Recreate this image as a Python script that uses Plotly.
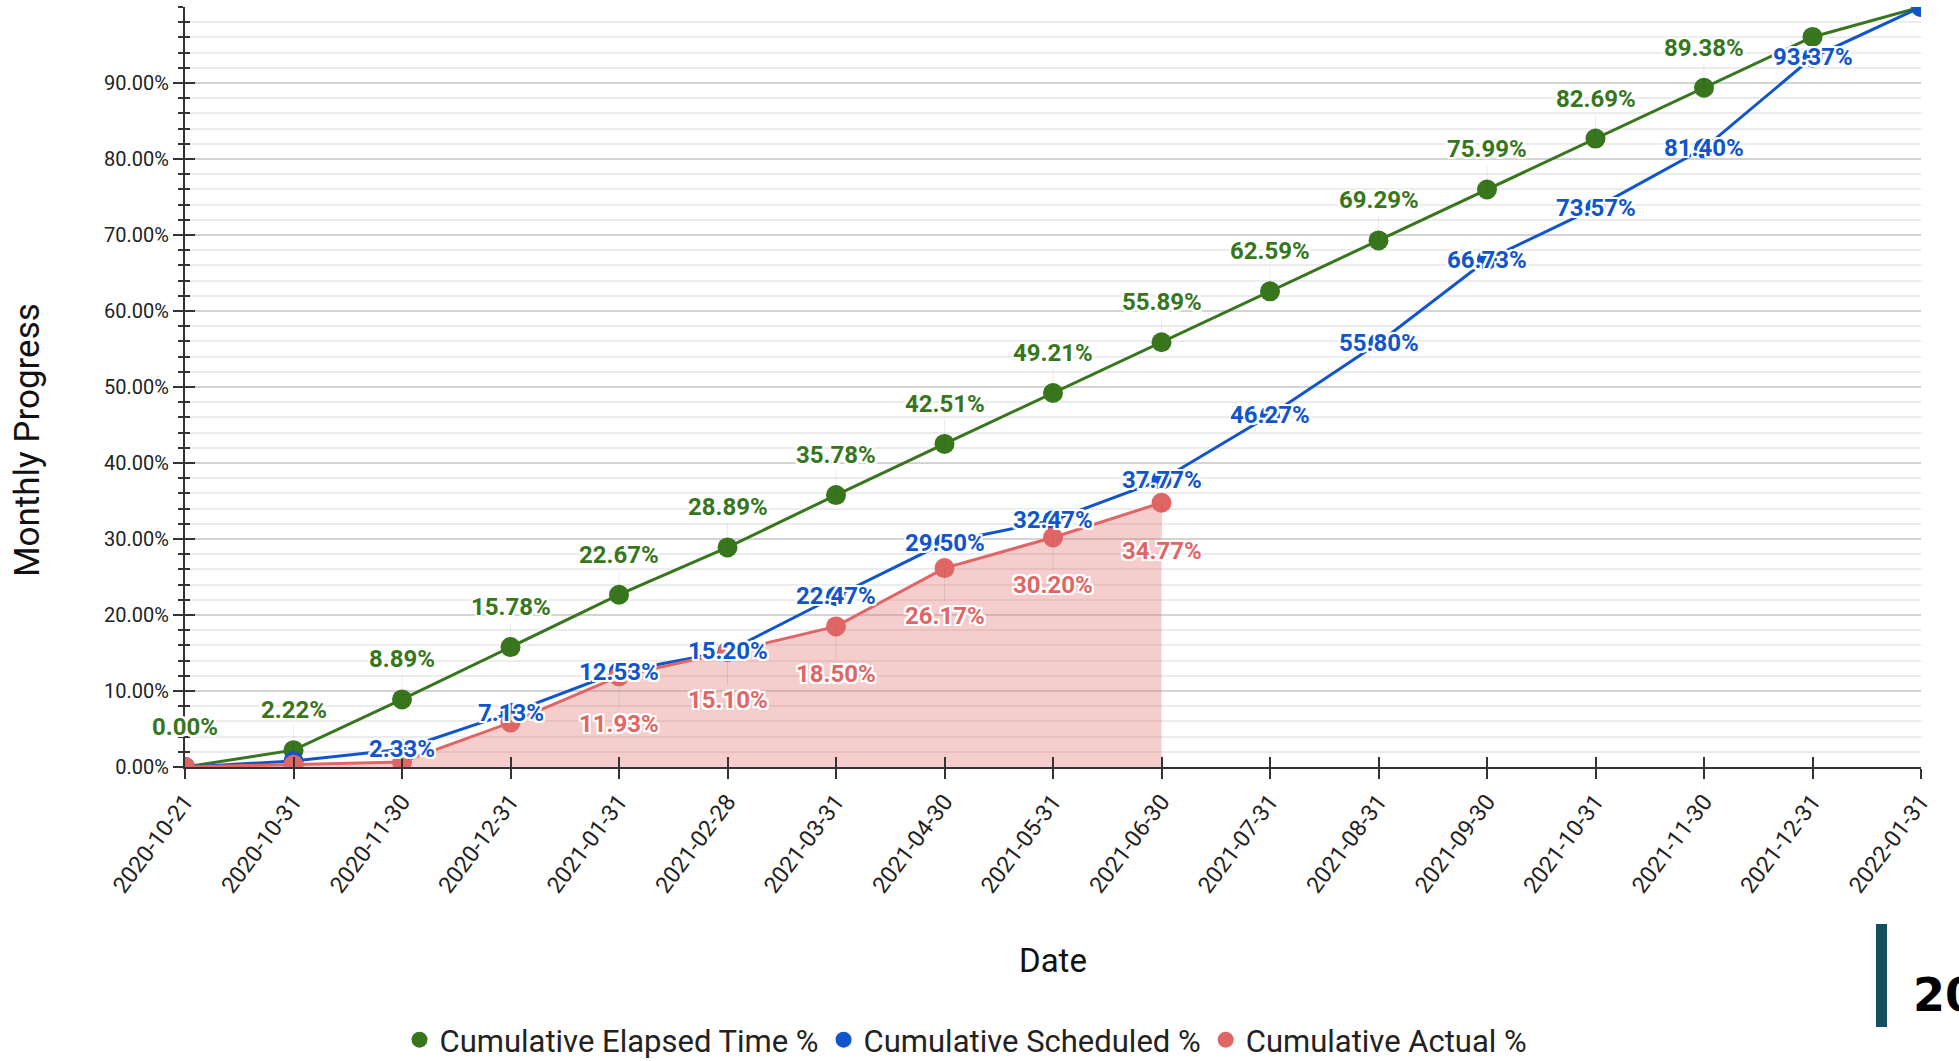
import plotly.graph_objects as go

# ---- data ----
dates = ["2020-10-21", "2020-10-31", "2020-11-30", "2020-12-31", "2021-01-31",
         "2021-02-28", "2021-03-31", "2021-04-30", "2021-05-31", "2021-06-30",
         "2021-07-31", "2021-08-31", "2021-09-30", "2021-10-31", "2021-11-30",
         "2021-12-31", "2022-01-31"]
elapsed = [0.00, 2.22, 8.89, 15.78, 22.67, 28.89, 35.78, 42.51, 49.21, 55.89,
           62.59, 69.29, 75.99, 82.69, 89.38, 96.06, 100.00]
scheduled = [0.00, 0.78, 2.33, 7.13, 12.53, 15.20, 22.47, 29.50, 32.47, 37.77,
             46.27, 55.80, 66.73, 73.57, 81.40, 93.37, 100.00]
actual_dates = dates[:10]
actual = [0.00, 0.30, 0.66, 5.85, 11.93, 15.10, 18.50, 26.17, 30.20, 34.77]

# which points carry a visible value label
elapsed_labeled = list(range(0, 15))
scheduled_labeled = list(range(2, 16))
actual_labeled = list(range(4, 10))

yticks = [0, 10, 20, 30, 40, 50, 60, 70, 80, 90]

GREEN = "#38761d"
BLUE = "#1155cc"
RED = "#e06666"

W, H = 1959, 1061
L, R, T, B = 185, 1921, 7, 767


def px_x(p):
    return (p - L) / (R - L)


def px_y(p):
    return (B - p) / (B - T)


fig = go.Figure()

fig.add_trace(go.Scatter(x=dates, y=elapsed, mode="lines+markers",
                         name="Cumulative Elapsed Time %", showlegend=False,
                         line=dict(color=GREEN, width=3),
                         marker=dict(color=GREEN, size=20)))
fig.add_trace(go.Scatter(x=dates, y=scheduled, mode="lines+markers",
                         name="Cumulative Scheduled %", showlegend=False,
                         line=dict(color=BLUE, width=3),
                         marker=dict(color=BLUE, size=20)))
fig.add_trace(go.Scatter(x=actual_dates, y=actual, mode="lines+markers",
                         name="Cumulative Actual %", showlegend=False,
                         fill="tozeroy", fillcolor="rgba(224,102,102,0.33)",
                         line=dict(color=RED, width=3),
                         marker=dict(color=RED, size=20)))

# legend-only entries (marker only)
for nm, col in [("Cumulative Elapsed Time %", GREEN),
                ("Cumulative Scheduled %", BLUE),
                ("Cumulative Actual %", RED)]:
    fig.add_trace(go.Scatter(x=[None], y=[None], mode="markers", name=nm,
                             marker=dict(color=col, size=16)))

# invisible trace to carry overlay axes (inside tick halves)
fig.add_trace(go.Scatter(x=[None], y=[None], xaxis="x2", yaxis="y2",
                         showlegend=False, hoverinfo="skip", mode="markers"))

shadow = ("2px 0 0 #fff, -2px 0 0 #fff, 0 2px 0 #fff, 0 -2px 0 #fff, "
          "2px 2px 0 #fff, -2px -2px 0 #fff, 2px -2px 0 #fff, -2px 2px 0 #fff")

annotations = []
for i in elapsed_labeled:
    annotations.append(dict(x=dates[i], y=elapsed[i], text=f"{elapsed[i]:.2f}%",
                            showarrow=True, arrowhead=0, arrowwidth=1,
                            arrowcolor="rgba(0,0,0,0.07)", ax=0, ay=-40,
                            font=dict(family="Roboto", size=24, color=GREEN,
                                      weight="bold", shadow=shadow)))
for i in actual_labeled:
    annotations.append(dict(x=actual_dates[i], y=actual[i], text=f"{actual[i]:.2f}%",
                            showarrow=True, arrowhead=0, arrowwidth=1,
                            arrowcolor="rgba(0,0,0,0.07)", ax=0, ay=48,
                            font=dict(family="Roboto", size=24, color=RED,
                                      weight="bold", shadow=shadow)))
for i in scheduled_labeled:
    annotations.append(dict(x=dates[i], y=scheduled[i], text=f"{scheduled[i]:.2f}%",
                            showarrow=False,
                            font=dict(family="Roboto", size=24, color=BLUE,
                                      weight="bold", shadow=shadow)))

# axis titles and the clipped card fragment at bottom right
annotations.append(dict(xref="paper", yref="paper", x=px_x(1053), y=px_y(960),
                        xanchor="center", yanchor="middle",
                        text="Date", showarrow=False,
                        font=dict(family="Roboto", size=33, color="#111")))
annotations.append(dict(xref="paper", yref="paper", x=px_x(28), y=px_y(440),
                        xanchor="center", yanchor="middle",
                        text="Monthly Progress", showarrow=False, textangle=-90,
                        font=dict(family="Roboto", size=35, color="#111")))
annotations.append(dict(xref="paper", yref="paper", x=px_x(1911), y=px_y(995),
                        xanchor="left", yanchor="middle", text="2022",
                        showarrow=False,
                        font=dict(family="DejaVu Sans", size=46, color="#000",
                                  weight="bold")))

shapes = [dict(type="rect", xref="paper", yref="paper",
               x0=px_x(1876), x1=px_x(1887), y0=px_y(1027), y1=px_y(924),
               fillcolor="#134f5c", line=dict(width=0))]

fig.update_layout(
    width=W, height=H,
    margin=dict(l=L, r=W - R, t=T, b=H - B, pad=0, autoexpand=False),
    paper_bgcolor="white", plot_bgcolor="white",
    font=dict(family="Roboto", color="#222"),
    annotations=annotations, shapes=shapes,
    legend=dict(orientation="h", xref="container", yref="container",
                x=966 / W, xanchor="center",
                y=1 - 1040 / H, yanchor="middle",
                font=dict(family="Roboto", size=31, color="#222"),
                itemsizing="trace", bgcolor="rgba(0,0,0,0)",
                itemwidth=30, tracegroupgap=0),
    xaxis=dict(type="category", categoryorder="array", categoryarray=dates,
               range=[0, len(dates) - 1], showgrid=False, zeroline=False,
               showline=True, linecolor="#333", linewidth=2,
               ticks="outside", ticklen=10, tickwidth=2, tickcolor="#333",
               tickangle=-53, automargin=False,
               tickfont=dict(family="Roboto", size=23, color="#222")),
    yaxis=dict(range=[0, 100], tickmode="array", tickvals=yticks,
               ticktext=[f"{v:.2f}%" for v in yticks], automargin=False,
               showgrid=True, gridcolor="#d4d4d4", gridwidth=1.5, zeroline=False,
               showline=True, linecolor="#333", linewidth=2,
               ticks="outside", ticklen=10, tickwidth=2, tickcolor="#333",
               tickfont=dict(family="Roboto", size=20, color="#222"),
               minor=dict(tick0=0, dtick=2, ticks="outside", ticklen=5,
                          tickwidth=2, tickcolor="#333", showgrid=True,
                          gridcolor="#ececec", gridwidth=1.5)),
    xaxis2=dict(type="linear", overlaying="x", anchor="y", side="bottom",
                range=[0, len(dates) - 1], dtick=1, tick0=0,
                showgrid=False, zeroline=False, showline=False,
                showticklabels=False, ticks="inside", ticklen=10, tickwidth=2,
                tickcolor="#333"),
    yaxis2=dict(type="linear", overlaying="y", anchor="x", side="left",
                range=[0, 100], tickmode="array", tickvals=yticks,
                showgrid=False, zeroline=False, showline=False,
                showticklabels=False, ticks="inside", ticklen=10, tickwidth=2,
                tickcolor="#333",
                minor=dict(tick0=0, dtick=2, ticks="inside", ticklen=5,
                           tickwidth=2, tickcolor="#333", showgrid=False)),
)

fig.write_html("out.html", config={"displayModeBar": False},
               post_script="document.body.style.margin='0px';"
                           "document.body.style.overflow='hidden';")
